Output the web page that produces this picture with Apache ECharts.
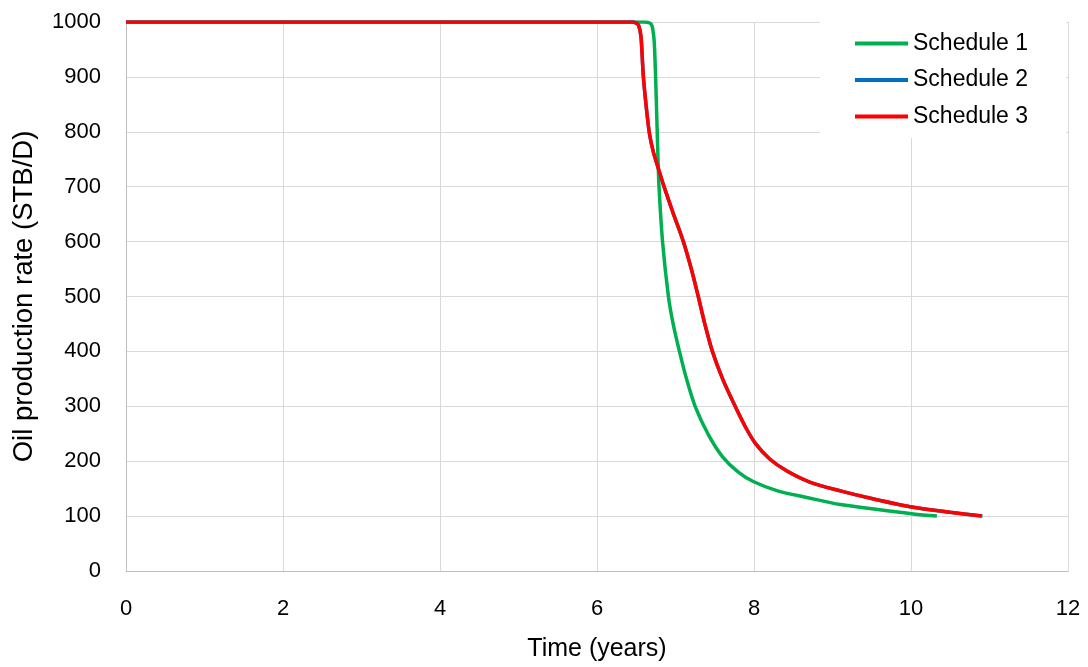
<!DOCTYPE html>
<html>
<head>
<meta charset="utf-8">
<script src="https://cdn.jsdelivr.net/npm/echarts@6/dist/echarts.min.js"></script>
<style>
html,body{margin:0;padding:0;background:#fff;overflow:hidden;}
#c{width:1088px;height:667px;}
</style>
</head>
<body>
<div id="c"></div>
<script>
var seriesNames = ['Schedule 1', 'Schedule 2', 'Schedule 3'];
var xTicks = [0, 2, 4, 6, 8, 10, 12];
var yTicks = [0, 100, 200, 300, 400, 500, 600, 700, 800, 900, 1000];

var schedule1 = [
  [0, 1000], [6.0, 1000], [6.5, 1000], [6.6, 1000], [6.66, 999], [6.69, 996], [6.71, 987], [6.73, 962],
  [6.755, 860], [6.775, 760], [6.79, 700], [6.835, 600], [6.91, 500], [6.97, 450], [7.05, 400],
  [7.14, 350], [7.25, 300], [7.42, 248], [7.60, 208], [7.80, 180], [7.99, 163], [8.30, 146],
  [8.67, 134], [9.10, 121], [10.03, 104], [10.33, 100]
];
var schedule2 = [
  [0, 1000], [6.0, 1000], [6.35, 1000], [6.45, 1000], [6.50, 998], [6.53, 994], [6.56, 974], [6.59, 902],
  [6.63, 842], [6.67, 795], [6.72, 762], [6.78, 734], [6.85, 702], [6.97, 652], [7.10, 600],
  [7.20, 551], [7.29, 500], [7.37, 452], [7.47, 400], [7.60, 350], [7.76, 300], [7.90, 260],
  [8.02, 232], [8.20, 204], [8.42, 182], [8.71, 162], [9.10, 146], [9.50, 132], [10.03, 116],
  [10.50, 107], [10.91, 100]
];
var schedule3 = [
  [0, 1000], [6.0, 1000], [6.35, 1000], [6.45, 1000], [6.50, 998], [6.53, 994], [6.56, 974], [6.59, 902],
  [6.63, 842], [6.67, 795], [6.72, 762], [6.78, 734], [6.85, 702], [6.97, 652], [7.10, 600],
  [7.20, 551], [7.29, 500], [7.37, 452], [7.47, 400], [7.60, 350], [7.76, 300], [7.90, 260],
  [8.02, 232], [8.20, 204], [8.42, 182], [8.71, 162], [9.10, 146], [9.50, 132], [10.03, 116],
  [10.50, 107], [10.90, 100]
];
var colors = ['#00B050', '#0070C0', '#FF0000'];
var font = 'Liberation Sans';

var chart = echarts.init(document.getElementById('c'), null, {renderer: 'canvas'});
function mk(name, data, color) {
  return {
    name: name, type: 'line', data: data, symbol: 'none',
    smooth: 0.3,
    lineStyle: {color: color, width: 3.5},
    itemStyle: {color: color},
    animation: false
  };
}
chart.setOption({
  animation: false,
  backgroundColor: '#fff',
  grid: {left: 126, right: 20, top: 22, bottom: 89, containLabel: false},
  legend: {
    data: seriesNames, orient: 'vertical', left: 820, top: 22,
    padding: [10, 38, 10, 35], backgroundColor: '#fff',
    icon: 'rect', itemWidth: 53, itemHeight: 4, itemGap: 13.5,
    textStyle: {fontFamily: font, fontSize: 23, color: '#000', lineHeight: 23}
  },
  xAxis: {
    type: 'value', min: xTicks[0], max: xTicks[xTicks.length - 1], interval: 2,
    name: 'Time (years)', nameLocation: 'middle', nameGap: 66,
    nameTextStyle: {fontFamily: font, fontSize: 25, color: '#000'},
    axisLine: {show: true, lineStyle: {color: '#BFBFBF', width: 1}},
    axisTick: {show: false},
    axisLabel: {fontFamily: font, fontSize: 22, color: '#000', margin: 27},
    splitLine: {show: true, lineStyle: {color: '#D9D9D9', width: 1}}
  },
  yAxis: {
    type: 'value', min: yTicks[0], max: yTicks[yTicks.length - 1], interval: 100,
    name: 'Oil production rate (STB/D)', nameLocation: 'middle', nameGap: 88,
    nameTextStyle: {fontFamily: font, fontSize: 27.5, color: '#000'},
    axisLine: {show: true, lineStyle: {color: '#BFBFBF', width: 1}},
    axisTick: {show: false},
    axisLabel: {fontFamily: font, fontSize: 22, color: '#000', margin: 25,
      formatter: function (v) { return String(v); }},
    splitLine: {show: true, lineStyle: {color: '#D9D9D9', width: 1}}
  },
  series: [
    mk(seriesNames[0], schedule1, colors[0]),
    mk(seriesNames[1], schedule2, colors[1]),
    mk(seriesNames[2], schedule3, colors[2])
  ]
});
</script>
</body>
</html>
